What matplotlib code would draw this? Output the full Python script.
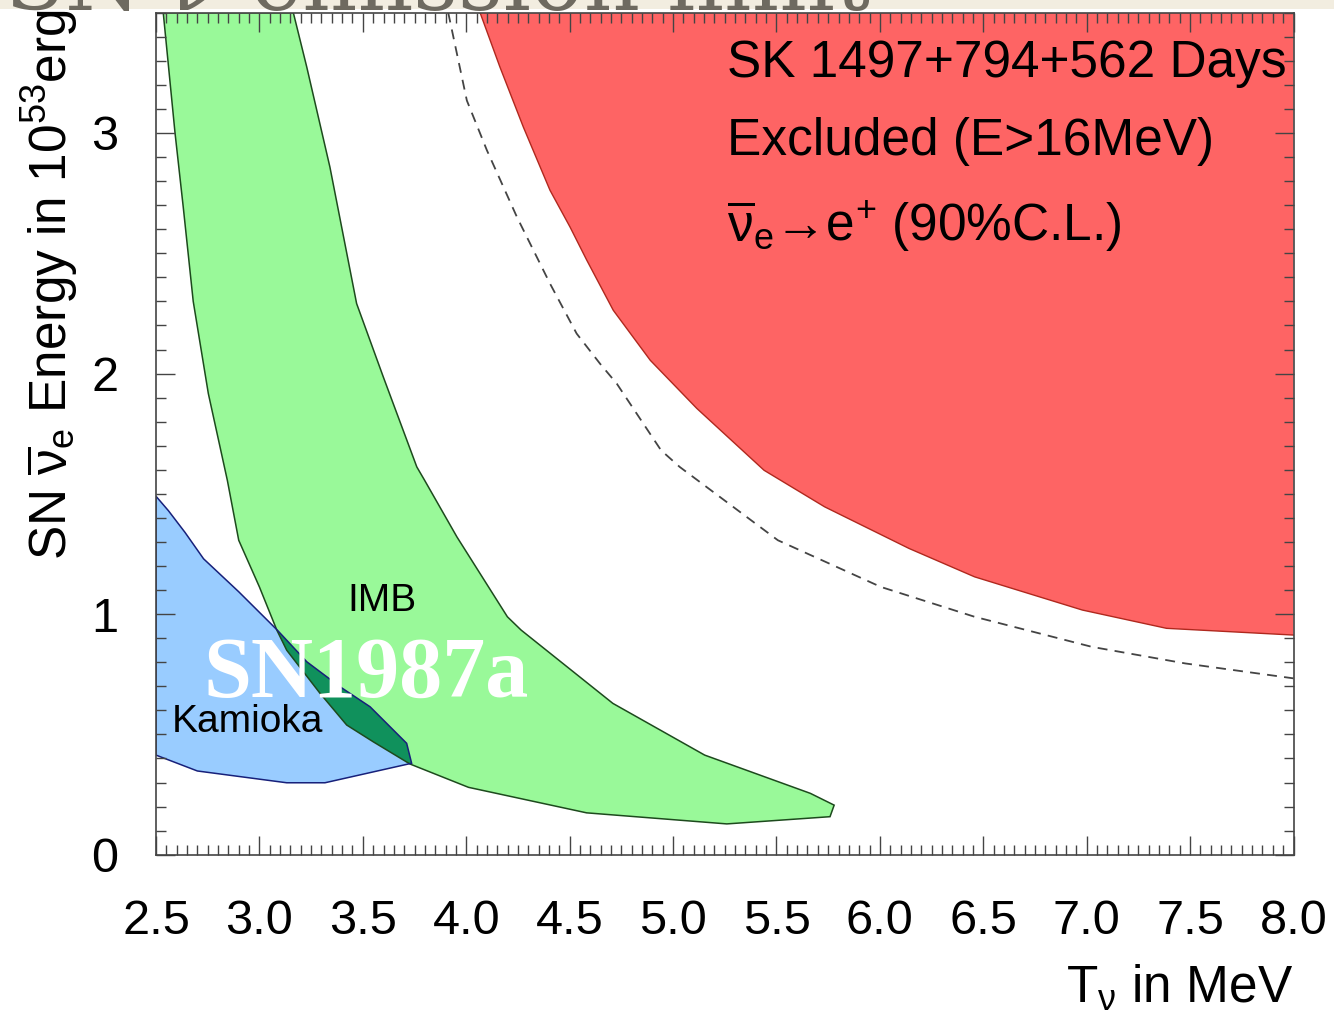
import matplotlib
matplotlib.use("Agg")
import matplotlib.pyplot as plt
from matplotlib.patches import Polygon, Rectangle
from matplotlib.ticker import MultipleLocator, FormatStrFormatter

plt.rcParams['font.family'] = ['Liberation Sans', 'DejaVu Sans']
plt.rcParams['mathtext.fontset'] = 'custom'
plt.rcParams['mathtext.rm'] = 'Liberation Sans'
plt.rcParams['mathtext.it'] = 'Liberation Sans'
plt.rcParams['mathtext.bf'] = 'Liberation Sans:bold'
plt.rcParams['mathtext.sf'] = 'Liberation Sans'

# SK excluded region (T in MeV, E in 1e53 erg), boundary from top to right edge
sk_T = [4.067, 4.163, 4.276, 4.405, 4.502, 4.583, 4.711, 4.89, 5.115, 5.44,
        5.733, 6.141, 6.458, 6.979, 7.386, 8.0]
sk_E = [3.5, 3.274, 3.025, 2.762, 2.609, 2.471, 2.263, 2.055, 1.855, 1.598,
        1.446, 1.273, 1.155, 1.017, 0.941, 0.913]

# dashed curve
dash_T = [3.913, 4.003, 4.10, 4.245, 4.405, 4.534, 4.647, 4.728, 4.942, 5.032,
          5.507, 6.005, 6.458, 7.025, 7.477, 8.0]
dash_E = [3.5, 3.135, 2.928, 2.651, 2.374, 2.166, 2.041, 1.958, 1.681, 1.612,
          1.307, 1.113, 0.989, 0.864, 0.795, 0.733]

# IMB band: left edge (top->bottom), bottom (left->right), right edge (bottom->top)
imb_left_T = [2.535, 2.592, 2.632, 2.68, 2.753, 2.845, 2.90, 3.0, 3.084, 3.132,
              3.293, 3.422, 3.551, 3.728]
imb_left_E = [3.5, 3.0, 2.69, 2.30, 1.917, 1.556, 1.307, 1.113, 0.934, 0.850,
              0.671, 0.539, 0.469, 0.377]
imb_bot_T = [4.011, 4.582, 5.26, 5.759, 5.779]
imb_bot_E = [0.28, 0.174, 0.128, 0.158, 0.206]
imb_right_T = [5.664, 5.153, 4.709, 4.265, 4.199, 3.955, 3.799, 3.761, 3.599,
               3.47, 3.341, 3.229, 3.164]
imb_right_E = [0.255, 0.414, 0.629, 0.934, 0.989, 1.321, 1.556, 1.612, 1.986,
               2.291, 2.858, 3.274, 3.5]

# Kamioka region: upper edge (left->right), lower edge (right->left)
kam_up_T = [2.5, 2.56, 2.64, 2.73, 2.90, 3.086, 3.229, 3.39, 3.535, 3.712, 3.736]
kam_up_E = [1.49, 1.43, 1.34, 1.23, 1.093, 0.934, 0.802, 0.698, 0.615, 0.463, 0.38]
kam_low_T = [3.72, 3.317, 3.132, 2.70, 2.5]
kam_low_E = [0.377, 0.299, 0.299, 0.348, 0.414]

x_ticks = [2.5, 3.0, 3.5, 4.0, 4.5, 5.0, 5.5, 6.0, 6.5, 7.0, 7.5, 8.0]
y_ticks = [0, 1, 2, 3]

W, H = 1334, 1019
fig = plt.figure(figsize=(W / 100, H / 100), dpi=100)
ax = fig.add_axes([156 / W, 1 - 854.7 / H, 1137.5 / W, 842 / H])

# SK region
red_pts = list(zip(sk_T, sk_E)) + [(8.0, 3.5)]
ax.add_patch(Polygon(red_pts, closed=True, fc='#fe6464', ec='none', zorder=1))
ax.plot(sk_T, sk_E, color='#b0281e', lw=1.0, zorder=1.3)

# IMB
imb_pts = (list(zip(imb_left_T, imb_left_E)) + list(zip(imb_bot_T, imb_bot_E))
           + list(zip(imb_right_T, imb_right_E)))
imb_fill = Polygon(imb_pts, closed=True, fc='#99f999', ec='none', zorder=1)
ax.add_patch(imb_fill)

# Kamioka
kam_pts = list(zip(kam_up_T, kam_up_E)) + list(zip(kam_low_T, kam_low_E))
ax.add_patch(Polygon(kam_pts, closed=True, fc='#99ccff', ec='none', zorder=1))

# overlap of both
overlap = Polygon(kam_pts, closed=True, fc='#10915c', ec='none', zorder=1.1)
ax.add_patch(overlap)
overlap.set_clip_path(imb_fill)

ax.add_patch(Polygon(imb_pts, closed=True, fill=False, ec='#1d4a1d', lw=1.1, zorder=1.2))
ax.add_patch(Polygon(kam_pts, closed=True, fill=False, ec='#17207a', lw=1.1, zorder=1.2))

ax.plot(dash_T, dash_E, color='#444444', lw=1.3, ls=(0, (5.5, 4)), zorder=1.3)

ax.set_xlim(2.5, 8.0)
ax.set_ylim(0, 3.5)
ax.set_xticks(x_ticks)
ax.set_yticks(y_ticks)
ax.xaxis.set_major_formatter(FormatStrFormatter('%.1f'))
ax.xaxis.set_minor_locator(MultipleLocator(0.05))
ax.yaxis.set_minor_locator(MultipleLocator(0.1))
ax.tick_params(which='both', direction='in', top=True, right=True,
               color='#444444', width=1.0)
ax.tick_params(which='major', length=14, labelsize=35)
ax.tick_params(axis='x', which='major', pad=32)
ax.tick_params(axis='y', which='major', pad=27)
ax.tick_params(which='minor', length=7.5)
for s in ax.spines.values():
    s.set_color('#444444')
    s.set_linewidth(1.2)

# texts
ax.text(5.261, 3.231, 'SK 1497+794+562 Days', fontsize=37, va='baseline', ha='left')
ax.text(5.261, 2.907, 'Excluded (E>16MeV)', fontsize=37, va='baseline', ha='left')
ax.text(5.261, 2.553, r'$\overline{\nu}_{e}$→e$^{+}$ (90%C.L.)',
        fontsize=37, va='baseline', ha='left')
ax.text(3.424, 1.012, 'IMB', fontsize=28, va='baseline', ha='left', zorder=3)
ax.text(2.577, 0.51, 'Kamioka', fontsize=28, va='baseline', ha='left', zorder=3)
ax.text(2.727, 0.655, 'SN1987a', family='Liberation Serif', weight='bold',
        fontsize=62, color='white', va='baseline', ha='left', zorder=4)

fig.text(50 / W, 1 - 560 / H, r'SN $\overline{\nu}_{e}$ Energy in 10$^{53}$erg',
         rotation=90, ha='center', va='bottom', fontsize=37)
fig.text(1293.5 / W, 1 - 1003 / H, r'T$_{\nu}$ in MeV', ha='right',
         va='baseline', fontsize=37)

# cropped slide title strip on top
fig.patches.append(Rectangle((0, 1 - 9 / H), 1, 9 / H, transform=fig.transFigure,
                             fc='#f2ede0', ec='none', zorder=0))
fig.text(5 / W, 1 - 10 / H, 'SN ν emission limit', family='DejaVu Serif',
         fontsize=63, color='#6e6a60', va='baseline', ha='left')

fig.savefig('out.png', dpi=100)
